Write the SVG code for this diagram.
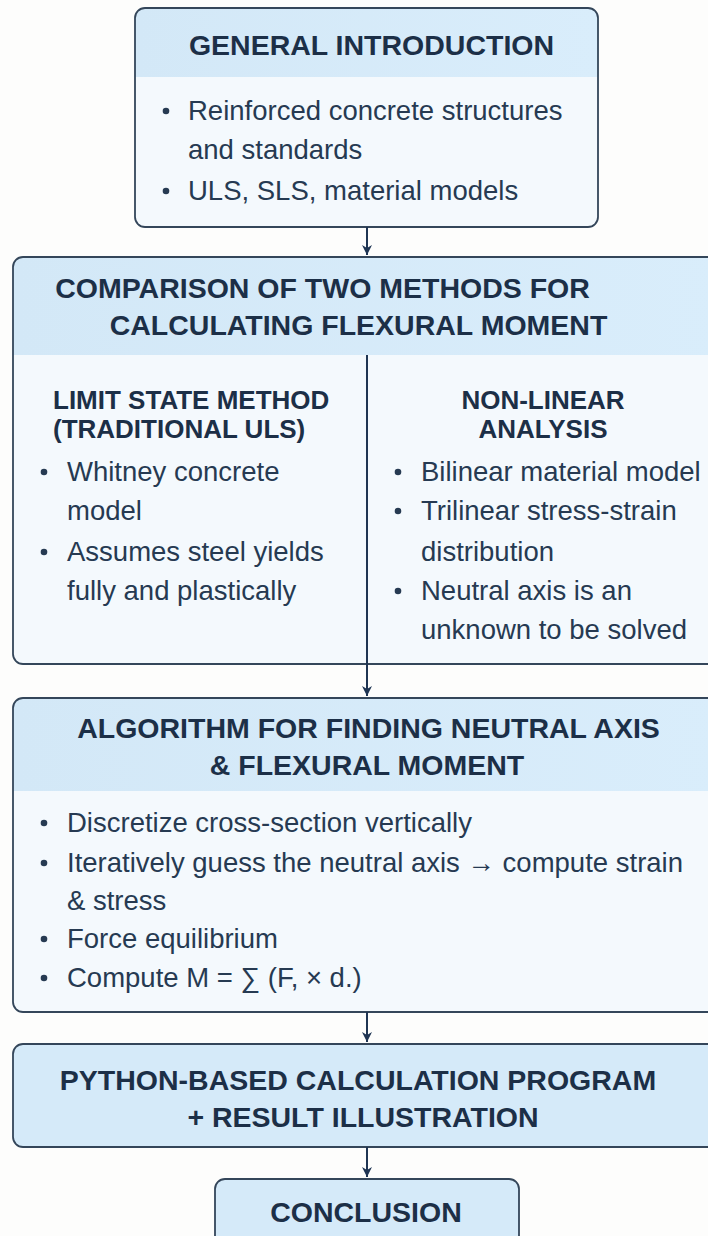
<svg xmlns="http://www.w3.org/2000/svg" width="708" height="1236" viewBox="0 0 708 1236">
  <defs>
    <marker id="arrow" viewBox="0 0 12 12" refX="11" refY="6" markerWidth="12" markerHeight="12" markerUnits="userSpaceOnUse" orient="auto">
      <path d="M1,1 L11,6 L1,11 L4,6 Z" fill="#1f3553"/>
    </marker>
    <linearGradient id="band" x1="0" y1="0" x2="1" y2="0">
      <stop offset="0" stop-color="#d3e8f7"/>
      <stop offset="1" stop-color="#d9edfb"/>
    </linearGradient>
    <style>
      .box { stroke: #34465a; stroke-width: 1.8; fill: none; }
      .body { fill: #f4f9fd; }
      .band { fill: url(#band); }
      .solid { fill: #d5eaf9; }
      .h { font-family: "Liberation Sans", Arial, sans-serif; font-weight: bold; font-size: 28.5px; fill: #1c2f47; text-anchor: middle; }
      .ct { font-family: "Liberation Sans", Arial, sans-serif; font-weight: bold; font-size: 26px; fill: #1c2f47; }
      .t { font-family: "Liberation Sans", Arial, sans-serif; font-size: 27.5px; fill: #263a52; }
      .dot { fill: #263a52; }
      .conn { stroke: #1f3553; stroke-width: 2; fill: none; }
    </style>
  </defs>
  <rect x="0" y="0" width="708" height="1236" fill="#fdfdfc"/>

  <!-- Node 1 -->
  <g id="general-introduction">
    <rect class="body" x="135" y="8" width="463" height="219" rx="10"/>
    <path class="band" d="M135,77 V18 A10,10 0 0 1 145,8 H588 A10,10 0 0 1 598,18 V77 Z"/>
    <rect class="box" x="135" y="8" width="463" height="219" rx="10"/>
    <text class="h" x="371.5" y="55">GENERAL INTRODUCTION</text>
    <circle class="dot" cx="166" cy="111" r="3.3"/>
    <text class="t" x="188" y="120">Reinforced concrete structures</text>
    <text class="t" x="188" y="159">and standards</text>
    <circle class="dot" cx="166" cy="191" r="3.3"/>
    <text class="t" x="188" y="200">ULS, SLS, material models</text>
  </g>

  <!-- Node 2 -->
  <g id="comparison">
    <rect class="body" x="13" y="257" width="710" height="407" rx="10"/>
    <path class="band" d="M13,355 V267 A10,10 0 0 1 23,257 H713 A10,10 0 0 1 723,267 V355 Z"/>
    <rect class="box" x="13" y="257" width="710" height="407" rx="10"/>
    <text class="h" x="322.5" y="298">COMPARISON OF TWO METHODS FOR</text>
    <text class="h" x="358.5" y="335">CALCULATING FLEXURAL MOMENT</text>
  </g>

  <g id="limit-state-method">
    <text class="ct" x="53" y="409">LIMIT STATE METHOD</text>
    <text class="ct" x="53" y="438">(TRADITIONAL ULS)</text>
    <circle class="dot" cx="44" cy="472" r="3.3"/>
    <text class="t" x="67" y="481">Whitney concrete</text>
    <text class="t" x="67" y="520">model</text>
    <circle class="dot" cx="44" cy="552" r="3.3"/>
    <text class="t" x="67" y="561">Assumes steel yields</text>
    <text class="t" x="67" y="600">fully and plastically</text>
  </g>

  <g id="non-linear-analysis">
    <text class="ct" x="543" y="409" text-anchor="middle">NON-LINEAR</text>
    <text class="ct" x="543" y="438" text-anchor="middle">ANALYSIS</text>
    <circle class="dot" cx="398" cy="472" r="3.3"/>
    <text class="t" x="421" y="481">Bilinear material model</text>
    <circle class="dot" cx="398" cy="511" r="3.3"/>
    <text class="t" x="421" y="520">Trilinear stress-strain</text>
    <text class="t" x="421" y="561">distribution</text>
    <circle class="dot" cx="398" cy="591" r="3.3"/>
    <text class="t" x="421" y="600">Neutral axis is an</text>
    <text class="t" x="421" y="639">unknown to be solved</text>
  </g>

  <!-- Node 3 -->
  <g id="algorithm">
    <rect class="body" x="13" y="698" width="710" height="314" rx="10"/>
    <path class="band" d="M13,791 V708 A10,10 0 0 1 23,698 H713 A10,10 0 0 1 723,708 V791 Z"/>
    <rect class="box" x="13" y="698" width="710" height="314" rx="10"/>
    <text class="h" x="368.5" y="738">ALGORITHM FOR FINDING NEUTRAL AXIS</text>
    <text class="h" x="367" y="775">&amp; FLEXURAL MOMENT</text>
    <circle class="dot" cx="44" cy="823" r="3.3"/>
    <text class="t" x="67" y="832">Discretize cross-section vertically</text>
    <circle class="dot" cx="44" cy="863" r="3.3"/>
    <text class="t" x="67" y="872">Iteratively guess the neutral axis → compute strain</text>
    <text class="t" x="67" y="910">&amp; stress</text>
    <circle class="dot" cx="44" cy="939" r="3.3"/>
    <text class="t" x="67" y="948">Force equilibrium</text>
    <circle class="dot" cx="44" cy="978" r="3.3"/>
    <text class="t" x="67" y="987">Compute M = ∑ (F, × d.)</text>
  </g>

  <!-- Node 4 -->
  <g id="python-program">
    <rect class="solid" x="13" y="1044" width="710" height="103" rx="10"/>
    <rect class="box" x="13" y="1044" width="710" height="103" rx="10"/>
    <text class="h" x="358" y="1090">PYTHON-BASED CALCULATION PROGRAM</text>
    <text class="h" x="363" y="1127">+ RESULT ILLUSTRATION</text>
  </g>

  <!-- Node 5 -->
  <g id="conclusion">
    <rect class="solid" x="215" y="1179" width="304" height="80" rx="10"/>
    <rect class="box" x="215" y="1179" width="304" height="80" rx="10"/>
    <text class="h" x="366" y="1222">CONCLUSION</text>
  </g>

  <!-- Connectors -->
  <g id="connectors">
    <line class="conn" x1="367" y1="227" x2="367" y2="255" marker-end="url(#arrow)"/>
    <line class="conn" x1="367" y1="355" x2="367" y2="696" marker-end="url(#arrow)"/>
    <line class="conn" x1="367" y1="1012" x2="367" y2="1042" marker-end="url(#arrow)"/>
    <line class="conn" x1="367" y1="1147" x2="367" y2="1177" marker-end="url(#arrow)"/>
  </g>
</svg>
